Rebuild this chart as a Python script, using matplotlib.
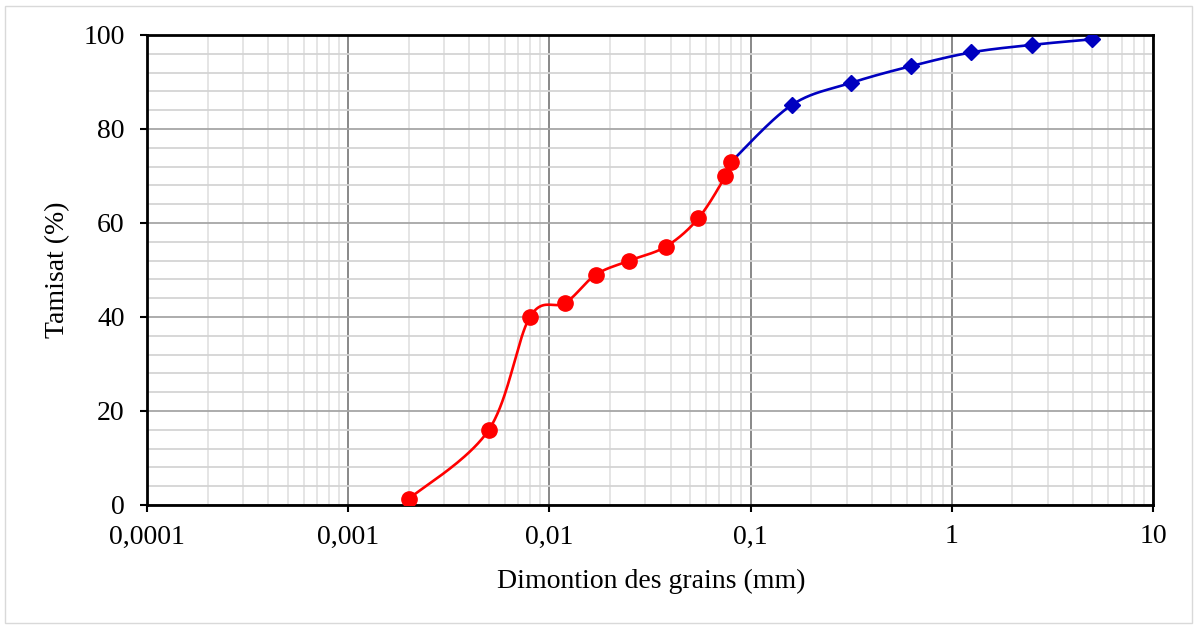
import numpy as np
import matplotlib.pyplot as plt
from matplotlib.patches import Rectangle
from matplotlib.ticker import FixedLocator, MultipleLocator, FuncFormatter, NullFormatter

# sedimentometrie (fine fraction)
sed_d = [0.002, 0.005, 0.008, 0.012, 0.017, 0.025, 0.038, 0.055, 0.075, 0.08]
sed_p = [1.3, 16, 40, 43, 49, 52, 55, 61, 70, 73]

# tamisage (sieve fraction)
sieve_d = [0.16, 0.315, 0.63, 1.25, 2.5, 5]
sieve_p = [85.1, 89.8, 93.4, 96.3, 97.9, 99.1]

x_ticks = [0.0001, 0.001, 0.01, 0.1, 1, 10]
x_labels = ['0,0001', '0,001', '0,01', '0,1', '1', '10']

plt.rcParams['font.family'] = ['Liberation Serif', 'DejaVu Serif']


def smooth(xs, ys, n=40):
    # Excel-style smoothed line (Catmull-Rom) drawn in log-x space
    lx = np.log10(np.asarray(xs, float))
    y = np.asarray(ys, float)
    px = np.concatenate([[lx[0]], lx, [lx[-1]]])
    py = np.concatenate([[y[0]], y, [y[-1]]])
    out_x, out_y = [], []
    t = np.linspace(0, 1, n)
    for i in range(1, len(px) - 2):
        p0, p1, p2, p3 = px[i - 1], px[i], px[i + 1], px[i + 2]
        q0, q1, q2, q3 = py[i - 1], py[i], py[i + 1], py[i + 2]
        c1x, c1y = p1 + (p2 - p0) / 6, q1 + (q2 - q0) / 6
        c2x, c2y = p2 - (p3 - p1) / 6, q2 - (q3 - q1) / 6
        bx = (1 - t) ** 3 * p1 + 3 * (1 - t) ** 2 * t * c1x + 3 * (1 - t) * t ** 2 * c2x + t ** 3 * p2
        by = (1 - t) ** 3 * q1 + 3 * (1 - t) ** 2 * t * c1y + 3 * (1 - t) * t ** 2 * c2y + t ** 3 * q2
        out_x.extend(bx)
        out_y.extend(by)
    return 10 ** np.array(out_x), np.array(out_y)


fig = plt.figure(figsize=(11.97, 6.28), dpi=100)
ax = fig.add_axes([147 / 1197, 1 - 505 / 628, (1153 - 147) / 1197, (505 - 35) / 628])

ax.set_xscale('log')
ax.set_xlim(0.0001, 10)
ax.set_ylim(0, 100)

# grid
ax.xaxis.set_major_locator(FixedLocator(x_ticks))
ax.xaxis.set_major_formatter(FuncFormatter(lambda v, p: x_labels[x_ticks.index(v)] if v in x_ticks else ''))
ax.xaxis.set_minor_locator(FixedLocator([m * 10.0 ** e for e in range(-4, 1) for m in range(2, 10)]))
ax.xaxis.set_minor_formatter(NullFormatter())
ax.yaxis.set_major_locator(MultipleLocator(20))
ax.yaxis.set_minor_locator(MultipleLocator(4))

ax.grid(which='minor', axis='x', color='#e3e3e3', lw=1.3)
ax.grid(which='minor', axis='y', color='#d4d4d4', lw=1.3)
ax.grid(which='major', axis='x', color='#7f7f7f', lw=1.3)
ax.grid(which='major', axis='y', color='#a6a6a6', lw=1.3)
ax.set_axisbelow(True)

ax.tick_params(which='major', direction='out', length=5, width=1.5, labelsize=20)
ax.tick_params(axis='x', pad=9)
ax.tick_params(axis='y', pad=11)
ax.tick_params(which='minor', length=0)
for s in ax.spines.values():
    s.set_linewidth(2)
    s.set_color('black')

# curves
bx, by = smooth([sed_d[-1]] + sieve_d, [sed_p[-1]] + sieve_p)
ax.plot(bx, by, color='#0000c0', lw=1.9, zorder=3)
ax.plot(sieve_d, sieve_p, 'D', color='#0000c0', ms=8.5, zorder=4)

rx, ry = smooth(sed_d, sed_p)
ax.plot(rx, ry, color='#ff0000', lw=1.9, zorder=5)
ax.plot(sed_d, sed_p, 'o', color='#ff0000', ms=11, zorder=6)

ax.set_xlabel('Dimontion des grains (mm)', fontsize=20, va='center')
ax.xaxis.set_label_coords(0.501, -0.162)
ax.set_ylabel('Tamisat (%)', fontsize=20, va='center')
ax.yaxis.set_label_coords(-0.0885, 0.5)

fig.patches.append(Rectangle((5 / 1197, 5 / 628), 1187 / 1197, 617 / 628,
                             transform=fig.transFigure, fill=False, edgecolor='#d9d9d9', lw=1))

fig.savefig('out.png', dpi=100)
